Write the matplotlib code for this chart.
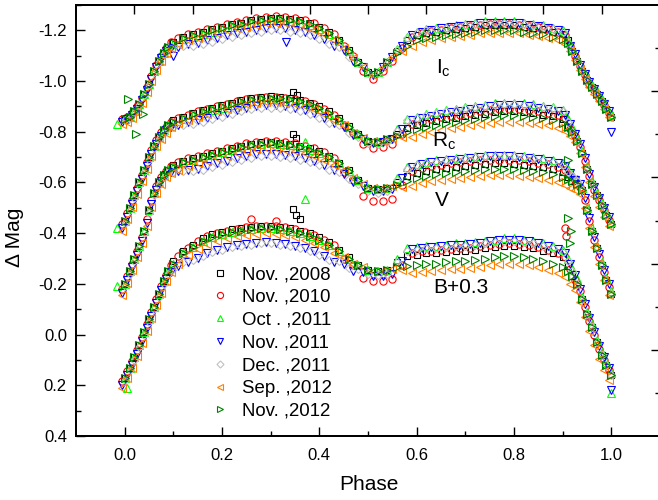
import matplotlib
matplotlib.use("Agg")
import matplotlib.pyplot as plt
from matplotlib.ticker import FixedLocator, FormatStrFormatter

# ---------------------------------------------------------------
# Light curve data
# B curve already shifted by +0.3 as drawn.
# ---------------------------------------------------------------

phase_a = [0.00, 0.01, 0.02, 0.03, 0.04, 0.05, 0.06, 0.07, 0.08, 0.09,
           0.10, 0.12, 0.14, 0.16, 0.18, 0.20, 0.22, 0.24, 0.26, 0.28,
           0.30, 0.32, 0.34, 0.36, 0.38, 0.40, 0.42, 0.44, 0.46, 0.48,
           0.50, 0.52, 0.54, 0.56, 0.58, 0.60, 0.62, 0.64, 0.66, 0.68,
           0.70, 0.72, 0.74, 0.76, 0.78, 0.80, 0.82, 0.84, 0.86, 0.88,
           0.90, 0.91, 0.92, 0.93, 0.94, 0.95, 0.96, 0.97, 0.98, 0.99, 1.00]

phase_b = [-0.005, 0.005, 0.015, 0.025, 0.035, 0.045, 0.055, 0.065, 0.075, 0.085,
           0.095, 0.11, 0.13, 0.15, 0.17, 0.19, 0.21, 0.23, 0.25, 0.27,
           0.29, 0.31, 0.33, 0.35, 0.37, 0.39, 0.41, 0.43, 0.45, 0.47,
           0.49, 0.51, 0.53, 0.55, 0.57, 0.59, 0.61, 0.63, 0.65, 0.67,
           0.69, 0.71, 0.73, 0.75, 0.77, 0.79, 0.81, 0.83, 0.85, 0.87,
           0.89, 0.905, 0.915, 0.925, 0.935, 0.945, 0.955, 0.965, 0.975, 0.985, 0.995]

# ---- Ic ----
ic_nov2008 = [-0.85, -0.86, -0.88, -0.91, -0.95, -0.99, -1.04, -1.08, -1.11, -1.135,
              -1.155, -1.175, -1.185, -1.195, -1.205, -1.215, -1.225, -1.23, -1.24, -1.245,
              -1.25, -1.25, -1.245, -1.24, -1.23, -1.215, -1.195, -1.163, -1.123, -1.075,
              -1.035, -1.035, -1.075, -1.12, -1.16, -1.18, -1.19, -1.195, -1.20, -1.205,
              -1.21, -1.215, -1.22, -1.22, -1.22, -1.22, -1.215, -1.21, -1.205, -1.195,
              -1.185, -1.16, -1.12, -1.08, -1.04, -1.005, -0.975, -0.95, -0.92, -0.89, -0.86]
ic_nov2010 = [-0.85, -0.86, -0.875, -0.90, -0.935, -0.975, -1.02, -1.065, -1.10, -1.13,
              -1.155, -1.17, -1.185, -1.195, -1.205, -1.215, -1.225, -1.233, -1.24, -1.248,
              -1.253, -1.255, -1.253, -1.248, -1.24, -1.228, -1.21, -1.185, -1.14, -1.098,
              -1.04, -1.01, -1.04, -1.078, -1.13, -1.175, -1.19, -1.198, -1.203, -1.208,
              -1.213, -1.218, -1.223, -1.225, -1.225, -1.225, -1.223, -1.218, -1.213, -1.205,
              -1.195, -1.183, -1.14, -1.10, -1.06, -1.022, -0.99, -0.963, -0.935, -0.905, -0.875]
ic_oct2011 = [-0.85, -0.86, -0.88, -0.91, -0.95, -0.99, -1.04, -1.08, -1.11, -1.135,
              -1.145, -1.165, -1.175, -1.185, -1.195, -1.205, -1.215, -1.22, -1.23, -1.235,
              -1.24, -1.24, -1.235, -1.23, -1.22, -1.205, -1.185, -1.158, -1.118, -1.075,
              -1.035, -1.035, -1.075, -1.128, -1.175, -1.195, -1.205, -1.21, -1.215, -1.22,
              -1.225, -1.23, -1.235, -1.235, -1.235, -1.235, -1.23, -1.225, -1.22, -1.21,
              -1.20, -1.16, -1.13, -1.09, -1.05, -1.015, -0.985, -0.96, -0.93, -0.90, -0.87]
ic_nov2011 = [-0.84, -0.85, -0.865, -0.89, -0.925, -0.965, -1.01, -1.055, -1.09, -1.12,
              -1.13, -1.135, -1.145, -1.15, -1.16, -1.17, -1.18, -1.188, -1.195, -1.203,
              -1.208, -1.21, -1.208, -1.203, -1.195, -1.183, -1.165, -1.14, -1.122, -1.08,
              -1.055, -1.025, -1.055, -1.093, -1.14, -1.18, -1.195, -1.203, -1.208, -1.213,
              -1.218, -1.223, -1.228, -1.23, -1.23, -1.23, -1.228, -1.223, -1.218, -1.21,
              -1.20, -1.188, -1.14, -1.105, -1.065, -1.027, -0.995, -0.968, -0.94, -0.91, -0.88]
ic_dec2011 = [-0.845, -0.855, -0.875, -0.905, -0.945, -0.985, -1.035, -1.075, -1.105, -1.13,
              -1.13, -1.14, -1.14, -1.145, -1.155, -1.165, -1.175, -1.18, -1.19, -1.195,
              -1.20, -1.20, -1.195, -1.19, -1.18, -1.165, -1.145, -1.135, -1.095, -1.07,
              -1.03, -1.03, -1.07, -1.123, -1.17, -1.19, -1.20, -1.205, -1.21, -1.215,
              -1.22, -1.225, -1.23, -1.23, -1.23, -1.23, -1.225, -1.22, -1.215, -1.205,
              -1.195, -1.15, -1.12, -1.08, -1.04, -1.005, -0.975, -0.95, -0.92, -0.89, -0.86]
ic_sep2012 = [-0.83, -0.84, -0.855, -0.88, -0.915, -0.955, -1.00, -1.045, -1.08, -1.11,
              -1.13, -1.145, -1.16, -1.17, -1.18, -1.19, -1.20, -1.208, -1.215, -1.223,
              -1.228, -1.23, -1.228, -1.223, -1.215, -1.203, -1.185, -1.16, -1.132, -1.09,
              -1.055, -1.025, -1.055, -1.093, -1.12, -1.14, -1.155, -1.163, -1.168, -1.173,
              -1.178, -1.183, -1.188, -1.19, -1.19, -1.19, -1.188, -1.183, -1.178, -1.17,
              -1.16, -1.148, -1.12, -1.085, -1.045, -1.007, -0.975, -0.948, -0.92, -0.89, -0.86]
ic_nov2012 = [-0.85, -0.86, -0.88, -0.91, -0.95, -0.99, -1.04, -1.08, -1.11, -1.135,
              -1.15, -1.17, -1.18, -1.19, -1.20, -1.21, -1.22, -1.225, -1.235, -1.24,
              -1.245, -1.245, -1.24, -1.235, -1.225, -1.21, -1.19, -1.16, -1.12, -1.075,
              -1.035, -1.035, -1.075, -1.11, -1.14, -1.16, -1.17, -1.175, -1.18, -1.185,
              -1.19, -1.195, -1.20, -1.20, -1.20, -1.20, -1.195, -1.19, -1.185, -1.175,
              -1.165, -1.15, -1.12, -1.08, -1.04, -1.005, -0.975, -0.95, -0.92, -0.89, -0.86]

# ---- Rc ----
rc_nov2008 = [-0.45, -0.50, -0.55, -0.60, -0.65, -0.70, -0.745, -0.78, -0.805, -0.825,
              -0.845, -0.86, -0.875, -0.885, -0.895, -0.905, -0.915, -0.925, -0.933, -0.938,
              -0.94, -0.938, -0.933, -0.925, -0.915, -0.90, -0.88, -0.853, -0.823, -0.79,
              -0.765, -0.76, -0.77, -0.793, -0.815, -0.825, -0.835, -0.843, -0.85, -0.855,
              -0.862, -0.867, -0.872, -0.877, -0.88, -0.88, -0.877, -0.873, -0.868, -0.862,
              -0.85, -0.82, -0.80, -0.765, -0.715, -0.655, -0.595, -0.55, -0.51, -0.47, -0.435]
rc_nov2010 = [-0.435, -0.48, -0.53, -0.58, -0.63, -0.68, -0.728, -0.768, -0.798, -0.82,
              -0.838, -0.853, -0.868, -0.88, -0.89, -0.90, -0.91, -0.92, -0.929, -0.935,
              -0.939, -0.939, -0.935, -0.929, -0.92, -0.908, -0.89, -0.868, -0.825, -0.795,
              -0.752, -0.737, -0.74, -0.752, -0.793, -0.83, -0.84, -0.849, -0.857, -0.863,
              -0.868, -0.875, -0.88, -0.885, -0.889, -0.89, -0.889, -0.885, -0.88, -0.875,
              -0.866, -0.853, -0.81, -0.783, -0.74, -0.685, -0.625, -0.572, -0.53, -0.49, -0.452]
rc_oct2011 = [-0.45, -0.50, -0.55, -0.60, -0.65, -0.70, -0.745, -0.78, -0.805, -0.825,
              -0.835, -0.85, -0.865, -0.875, -0.885, -0.895, -0.905, -0.915, -0.923, -0.928,
              -0.93, -0.928, -0.923, -0.915, -0.905, -0.89, -0.87, -0.847, -0.817, -0.79,
              -0.765, -0.76, -0.77, -0.81, -0.85, -0.86, -0.87, -0.878, -0.885, -0.89,
              -0.897, -0.902, -0.907, -0.912, -0.915, -0.915, -0.912, -0.908, -0.903, -0.897,
              -0.885, -0.85, -0.82, -0.775, -0.725, -0.665, -0.605, -0.56, -0.52, -0.48, -0.445]
rc_nov2011 = [-0.42, -0.465, -0.515, -0.565, -0.615, -0.665, -0.713, -0.753, -0.783, -0.805,
              -0.818, -0.828, -0.838, -0.845, -0.855, -0.865, -0.875, -0.885, -0.894, -0.90,
              -0.904, -0.904, -0.90, -0.894, -0.885, -0.873, -0.855, -0.833, -0.817, -0.787,
              -0.772, -0.757, -0.76, -0.772, -0.811, -0.845, -0.855, -0.864, -0.872, -0.878,
              -0.883, -0.89, -0.895, -0.90, -0.904, -0.905, -0.904, -0.90, -0.895, -0.89,
              -0.881, -0.868, -0.83, -0.793, -0.75, -0.695, -0.635, -0.582, -0.54, -0.50, -0.462]
rc_dec2011 = [-0.44, -0.49, -0.54, -0.59, -0.64, -0.69, -0.735, -0.77, -0.795, -0.815,
              -0.82, -0.825, -0.83, -0.84, -0.85, -0.86, -0.87, -0.88, -0.888, -0.893,
              -0.895, -0.893, -0.888, -0.88, -0.87, -0.855, -0.835, -0.825, -0.795, -0.78,
              -0.755, -0.75, -0.76, -0.803, -0.845, -0.855, -0.865, -0.873, -0.88, -0.885,
              -0.892, -0.897, -0.902, -0.907, -0.91, -0.91, -0.907, -0.903, -0.898, -0.892,
              -0.88, -0.84, -0.80, -0.765, -0.715, -0.655, -0.595, -0.55, -0.51, -0.47, -0.435]
rc_sep2012 = [-0.41, -0.455, -0.505, -0.555, -0.605, -0.655, -0.703, -0.743, -0.773, -0.795,
              -0.818, -0.833, -0.848, -0.86, -0.87, -0.88, -0.89, -0.90, -0.909, -0.915,
              -0.919, -0.919, -0.915, -0.909, -0.90, -0.888, -0.87, -0.848, -0.827, -0.797,
              -0.777, -0.762, -0.765, -0.777, -0.78, -0.78, -0.79, -0.799, -0.807, -0.813,
              -0.818, -0.825, -0.83, -0.835, -0.839, -0.84, -0.839, -0.835, -0.83, -0.825,
              -0.816, -0.803, -0.785, -0.758, -0.715, -0.66, -0.60, -0.547, -0.505, -0.465, -0.427]
rc_nov2012 = [-0.45, -0.50, -0.55, -0.60, -0.65, -0.70, -0.745, -0.78, -0.805, -0.825,
              -0.84, -0.855, -0.87, -0.88, -0.89, -0.90, -0.91, -0.92, -0.928, -0.933,
              -0.935, -0.933, -0.928, -0.92, -0.91, -0.895, -0.875, -0.85, -0.82, -0.79,
              -0.765, -0.76, -0.77, -0.785, -0.80, -0.81, -0.82, -0.828, -0.835, -0.84,
              -0.847, -0.852, -0.857, -0.862, -0.865, -0.865, -0.862, -0.858, -0.853, -0.847,
              -0.835, -0.82, -0.80, -0.765, -0.715, -0.655, -0.595, -0.55, -0.51, -0.47, -0.435]

# ---- V ----
v_nov2008 = [-0.20, -0.25, -0.30, -0.35, -0.41, -0.49, -0.56, -0.60, -0.63, -0.65,
             -0.667, -0.685, -0.695, -0.705, -0.715, -0.725, -0.735, -0.745, -0.753, -0.758,
             -0.76, -0.757, -0.752, -0.745, -0.735, -0.723, -0.705, -0.678, -0.648, -0.61,
             -0.58, -0.575, -0.58, -0.60, -0.625, -0.638, -0.646, -0.652, -0.657, -0.662,
             -0.666, -0.67, -0.673, -0.675, -0.675, -0.673, -0.67, -0.665, -0.66, -0.652,
             -0.64, -0.622, -0.605, -0.595, -0.57, -0.49, -0.41, -0.34, -0.275, -0.215, -0.16]
v_nov2010 = [-0.18, -0.23, -0.28, -0.33, -0.385, -0.455, -0.53, -0.585, -0.62, -0.645,
             -0.666, -0.681, -0.695, -0.705, -0.715, -0.725, -0.735, -0.745, -0.754, -0.761,
             -0.764, -0.764, -0.76, -0.754, -0.745, -0.734, -0.719, -0.698, -0.64, -0.608,
             -0.545, -0.527, -0.527, -0.535, -0.589, -0.647, -0.657, -0.664, -0.67, -0.675,
             -0.679, -0.683, -0.687, -0.689, -0.69, -0.689, -0.687, -0.683, -0.678, -0.671,
             -0.661, -0.651, -0.628, -0.61, -0.583, -0.53, -0.45, -0.375, -0.308, -0.245, -0.188]
v_oct2011 = [-0.20, -0.25, -0.30, -0.35, -0.41, -0.49, -0.56, -0.60, -0.63, -0.65,
             -0.662, -0.68, -0.69, -0.70, -0.71, -0.72, -0.73, -0.74, -0.748, -0.753,
             -0.755, -0.752, -0.747, -0.74, -0.73, -0.718, -0.70, -0.675, -0.645, -0.61,
             -0.58, -0.575, -0.58, -0.618, -0.66, -0.673, -0.681, -0.687, -0.692, -0.697,
             -0.701, -0.705, -0.708, -0.71, -0.71, -0.708, -0.705, -0.70, -0.695, -0.687,
             -0.675, -0.652, -0.635, -0.615, -0.58, -0.50, -0.42, -0.35, -0.285, -0.225, -0.17]
v_nov2011 = [-0.165, -0.215, -0.265, -0.315, -0.37, -0.44, -0.515, -0.57, -0.605, -0.63,
             -0.641, -0.646, -0.65, -0.655, -0.665, -0.675, -0.685, -0.695, -0.704, -0.711,
             -0.714, -0.714, -0.71, -0.704, -0.695, -0.684, -0.669, -0.648, -0.635, -0.603,
             -0.585, -0.567, -0.567, -0.575, -0.617, -0.662, -0.672, -0.679, -0.685, -0.69,
             -0.694, -0.698, -0.702, -0.704, -0.705, -0.704, -0.702, -0.698, -0.693, -0.686,
             -0.676, -0.666, -0.638, -0.61, -0.593, -0.54, -0.46, -0.385, -0.318, -0.255, -0.198]
v_dec2011 = [-0.19, -0.24, -0.29, -0.34, -0.40, -0.48, -0.55, -0.59, -0.62, -0.64,
             -0.642, -0.645, -0.645, -0.65, -0.66, -0.67, -0.68, -0.69, -0.698, -0.703,
             -0.705, -0.702, -0.697, -0.69, -0.68, -0.668, -0.65, -0.643, -0.613, -0.595,
             -0.565, -0.56, -0.565, -0.608, -0.655, -0.668, -0.676, -0.682, -0.687, -0.692,
             -0.696, -0.70, -0.703, -0.705, -0.705, -0.703, -0.70, -0.695, -0.69, -0.682,
             -0.67, -0.642, -0.625, -0.605, -0.57, -0.49, -0.41, -0.34, -0.275, -0.215, -0.16]
v_sep2012 = [-0.155, -0.205, -0.255, -0.305, -0.36, -0.43, -0.505, -0.56, -0.595, -0.62,
             -0.636, -0.651, -0.665, -0.675, -0.685, -0.695, -0.705, -0.715, -0.724, -0.731,
             -0.734, -0.734, -0.73, -0.724, -0.715, -0.704, -0.689, -0.668, -0.65, -0.618,
             -0.595, -0.577, -0.577, -0.585, -0.584, -0.587, -0.597, -0.604, -0.61, -0.615,
             -0.619, -0.623, -0.627, -0.629, -0.63, -0.629, -0.627, -0.623, -0.618, -0.611,
             -0.601, -0.591, -0.578, -0.57, -0.553, -0.50, -0.42, -0.345, -0.278, -0.215, -0.158]
v_nov2012 = [-0.20, -0.25, -0.30, -0.35, -0.41, -0.49, -0.56, -0.60, -0.63, -0.65,
             -0.662, -0.68, -0.69, -0.70, -0.71, -0.72, -0.73, -0.74, -0.748, -0.753,
             -0.755, -0.752, -0.747, -0.74, -0.73, -0.718, -0.70, -0.675, -0.645, -0.61,
             -0.58, -0.575, -0.58, -0.59, -0.605, -0.618, -0.626, -0.632, -0.637, -0.642,
             -0.646, -0.65, -0.653, -0.655, -0.655, -0.653, -0.65, -0.645, -0.64, -0.632,
             -0.62, -0.612, -0.605, -0.595, -0.57, -0.49, -0.41, -0.34, -0.275, -0.215, -0.16]

# ---- B + 0.3 ----
b03_nov2008 = [0.17, 0.13, 0.09, 0.04, -0.01, -0.06, -0.11, -0.16, -0.21, -0.25,
               -0.29, -0.33, -0.355, -0.38, -0.395, -0.405, -0.415, -0.42, -0.425, -0.43,
               -0.43, -0.425, -0.42, -0.41, -0.40, -0.385, -0.365, -0.335, -0.305, -0.275,
               -0.255, -0.25, -0.255, -0.285, -0.31, -0.315, -0.32, -0.32, -0.325, -0.33,
               -0.33, -0.335, -0.34, -0.345, -0.35, -0.35, -0.345, -0.34, -0.33, -0.32,
               -0.305, -0.27, -0.23, -0.20, -0.14, -0.08, -0.03, 0.03, 0.08, 0.12, 0.16]
b03_nov2010 = [0.185, 0.145, 0.105, 0.06, 0.01, -0.04, -0.09, -0.14, -0.19, -0.235,
               -0.275, -0.31, -0.343, -0.368, -0.388, -0.40, -0.41, -0.418, -0.423, -0.428,
               -0.43, -0.428, -0.423, -0.415, -0.405, -0.393, -0.375, -0.353, -0.30, -0.273,
               -0.225, -0.212, -0.212, -0.22, -0.273, -0.323, -0.328, -0.33, -0.333, -0.338,
               -0.34, -0.343, -0.348, -0.353, -0.358, -0.36, -0.358, -0.353, -0.345, -0.335,
               -0.323, -0.308, -0.26, -0.215, -0.17, -0.11, -0.055, 0.0, 0.055, 0.10, 0.14]
b03_oct2011 = [0.17, 0.13, 0.09, 0.04, -0.01, -0.06, -0.11, -0.16, -0.21, -0.25,
               -0.28, -0.32, -0.345, -0.37, -0.385, -0.395, -0.405, -0.41, -0.415, -0.42,
               -0.42, -0.415, -0.41, -0.40, -0.39, -0.375, -0.355, -0.33, -0.30, -0.275,
               -0.255, -0.25, -0.255, -0.30, -0.34, -0.345, -0.35, -0.35, -0.355, -0.36,
               -0.36, -0.365, -0.37, -0.375, -0.38, -0.38, -0.375, -0.37, -0.36, -0.35,
               -0.335, -0.30, -0.26, -0.22, -0.15, -0.09, -0.04, 0.02, 0.07, 0.11, 0.15]
b03_nov2011 = [0.20, 0.16, 0.12, 0.075, 0.025, -0.025, -0.075, -0.125, -0.175, -0.22,
               -0.245, -0.27, -0.288, -0.303, -0.323, -0.335, -0.345, -0.353, -0.358, -0.363,
               -0.365, -0.363, -0.358, -0.35, -0.34, -0.328, -0.31, -0.288, -0.277, -0.25,
               -0.245, -0.232, -0.232, -0.24, -0.29, -0.338, -0.343, -0.345, -0.348, -0.353,
               -0.355, -0.358, -0.363, -0.368, -0.373, -0.375, -0.373, -0.368, -0.36, -0.35,
               -0.338, -0.323, -0.28, -0.235, -0.18, -0.12, -0.065, -0.01, 0.045, 0.09, 0.13]
b03_dec2011 = [0.18, 0.14, 0.10, 0.05, 0.0, -0.05, -0.10, -0.15, -0.20, -0.24,
               -0.26, -0.285, -0.295, -0.31, -0.325, -0.335, -0.345, -0.35, -0.355, -0.36,
               -0.36, -0.355, -0.35, -0.34, -0.33, -0.315, -0.295, -0.292, -0.262, -0.26,
               -0.24, -0.235, -0.24, -0.287, -0.33, -0.335, -0.34, -0.34, -0.345, -0.35,
               -0.35, -0.355, -0.36, -0.365, -0.37, -0.37, -0.365, -0.36, -0.35, -0.34,
               -0.325, -0.29, -0.25, -0.20, -0.14, -0.08, -0.03, 0.03, 0.08, 0.12, 0.16]
b03_sep2012 = [0.21, 0.17, 0.13, 0.085, 0.035, -0.015, -0.065, -0.115, -0.165, -0.21,
               -0.245, -0.28, -0.313, -0.338, -0.358, -0.37, -0.38, -0.388, -0.393, -0.398,
               -0.40, -0.398, -0.393, -0.385, -0.375, -0.363, -0.345, -0.323, -0.305, -0.278,
               -0.265, -0.252, -0.252, -0.26, -0.253, -0.243, -0.248, -0.25, -0.253, -0.258,
               -0.26, -0.263, -0.268, -0.273, -0.278, -0.28, -0.278, -0.273, -0.265, -0.255,
               -0.243, -0.228, -0.20, -0.175, -0.13, -0.07, -0.015, 0.04, 0.095, 0.14, 0.18]
b03_nov2012 = [0.17, 0.13, 0.09, 0.04, -0.01, -0.06, -0.11, -0.16, -0.21, -0.25,
               -0.28, -0.32, -0.345, -0.37, -0.385, -0.395, -0.405, -0.41, -0.415, -0.42,
               -0.42, -0.415, -0.41, -0.40, -0.39, -0.375, -0.355, -0.33, -0.30, -0.275,
               -0.255, -0.25, -0.255, -0.265, -0.27, -0.275, -0.28, -0.28, -0.285, -0.29,
               -0.29, -0.295, -0.30, -0.305, -0.31, -0.31, -0.305, -0.30, -0.29, -0.28,
               -0.265, -0.25, -0.23, -0.20, -0.14, -0.08, -0.03, 0.03, 0.08, 0.12, 0.16]

# scattered single points (series index, phase, mag)
extra_idx = [0, 0, 0, 0, 0, 0, 0,
             1, 1, 1, 1,
             2, 2, 2, 2, 2, 2, 2,
             3, 3, 3, 3,
             6, 6, 6, 6, 6, 6, 6]
extra_phase = [0.345, 0.355, 0.345, 0.352, 0.345, 0.353, 0.36,
               0.26, 0.31, 0.907, 0.905,
               -0.016, 0.37, 0.37, -0.016, -0.016, 1.0, 0.005,
               0.10, 0.332, 1.0, 1.0,
               0.006, 0.037, 0.024, 0.91, 0.91, 0.917, 0.915]
extra_mag = [-0.955, -0.945, -0.79, -0.775, -0.495, -0.47, -0.455,
             -0.455, -0.45, -0.39, -0.42,
             -0.83, -0.76, -0.535, -0.19, -0.42, 0.23, 0.21,
             -1.10, -1.156, -0.80, 0.22,
             -0.93, -0.87, -0.79, -0.69, -0.46, -0.41, -0.36]

labels = ["Nov. ,2008", "Nov. ,2010", "Oct . ,2011", "Nov. ,2011",
          "Dec. ,2011", "Sep. ,2012", "Nov. ,2012"]
series_phase = [phase_a, phase_b, phase_a, phase_b, phase_a, phase_b, phase_a]
series_bands = [
    [ic_nov2008, rc_nov2008, v_nov2008, b03_nov2008],
    [ic_nov2010, rc_nov2010, v_nov2010, b03_nov2010],
    [ic_oct2011, rc_oct2011, v_oct2011, b03_oct2011],
    [ic_nov2011, rc_nov2011, v_nov2011, b03_nov2011],
    [ic_dec2011, rc_dec2011, v_dec2011, b03_dec2011],
    [ic_sep2012, rc_sep2012, v_sep2012, b03_sep2012],
    [ic_nov2012, rc_nov2012, v_nov2012, b03_nov2012],
]

# styles
markers = ['s', 'o', '^', 'v', 'D', '<', '>']
colors = ['#000000', '#ff0000', '#00ff00', '#0000ff', '#c0c0c0', '#ff8000', '#008000']
msizes = [4.5, 5.2, 5.2, 5.2, 4.2, 5.2, 5.2]

plt.rcParams['font.family'] = ['Liberation Sans', 'DejaVu Sans']
plt.rcParams['axes.unicode_minus'] = False
plt.rcParams['mathtext.default'] = 'regular'

fig = plt.figure(figsize=(6.58, 5.0), dpi=100)
ax = fig.add_axes([76 / 658, 64 / 500, 584 / 658, 431 / 500])

for i in range(len(labels)):
    xs, ys = [], []
    for band in series_bands[i]:
        xs += series_phase[i]
        ys += band
    for k, p, m in zip(extra_idx, extra_phase, extra_mag):
        if k == i:
            xs.append(p)
            ys.append(m)
    ax.plot(xs, ys, linestyle='none', marker=markers[i], ms=msizes[i],
            mfc='none', mec=colors[i], mew=0.8, label=labels[i])

ax.set_xlim(-0.1, 1.1)
ax.set_ylim(0.4, -1.3)
ax.xaxis.set_major_locator(FixedLocator([0.0, 0.2, 0.4, 0.6, 0.8, 1.0]))
ax.xaxis.set_minor_locator(FixedLocator([0.1, 0.3, 0.5, 0.7, 0.9]))
ax.yaxis.set_major_locator(FixedLocator([-1.2, -1.0, -0.8, -0.6, -0.4, -0.2, 0.0, 0.2, 0.4]))
ax.yaxis.set_minor_locator(FixedLocator([-1.3, -1.1, -0.9, -0.7, -0.5, -0.3, -0.1, 0.1, 0.3]))
ax.xaxis.set_major_formatter(FormatStrFormatter('%.1f'))
ax.yaxis.set_major_formatter(FormatStrFormatter('%.1f'))
ax.tick_params(which='major', direction='in', length=6.5, width=1.0, labelsize=12, pad=6.5)
ax.tick_params(axis='x', which='major', pad=8.5)
ax.tick_params(which='minor', direction='in', length=3.5, width=1.0)

# top and right frame ticks (independent scales, no labels)
axt = ax.twiny()
axt.set_xlim(0, 1)
axt.set_xticks([0.1, 0.2, 0.3, 0.4, 0.5, 0.6, 0.7, 0.8, 0.9])
axt.set_xticklabels([])
axt.tick_params(axis='x', direction='in', length=6.5, width=1.0)

axr = ax.twinx()
axr.set_ylim(0, 1)
axr.set_yticks([0.2, 0.4, 0.6, 0.8])
axr.set_yticks([0.1, 0.3, 0.5, 0.7, 0.9], minor=True)
axr.set_yticklabels([])
axr.tick_params(axis='y', which='major', direction='in', length=6.5, width=1.0)
axr.tick_params(axis='y', which='minor', direction='in', length=3.5, width=1.0)

for a in (ax, axt, axr):
    for sp in a.spines.values():
        sp.set_linewidth(1.2)

ax.text(0.64, -1.03, r'I$_{c}$', fontsize=15)
ax.text(0.632, -0.74, r'R$_{c}$', fontsize=15)
ax.text(0.637, -0.507, 'V', fontsize=15)
ax.text(0.635, -0.166, 'B+0.3', fontsize=15)

ax.legend(loc='upper left', bbox_to_anchor=(211 / 658, 1 - 266 / 500),
          bbox_transform=fig.transFigure, frameon=False, fontsize=13.4,
          handlelength=1.0, handletextpad=0.68, labelspacing=0.31,
          borderpad=0, borderaxespad=0, markerscale=0.85)

fig.text(15 / 658, 1 - 237 / 500, 'Δ Mag', rotation=90, fontsize=15,
         ha='center', va='center')
fig.text(369 / 658, 1 - 485 / 500, 'Phase', fontsize=15, ha='center', va='center')

fig.savefig('out.png', dpi=100)
